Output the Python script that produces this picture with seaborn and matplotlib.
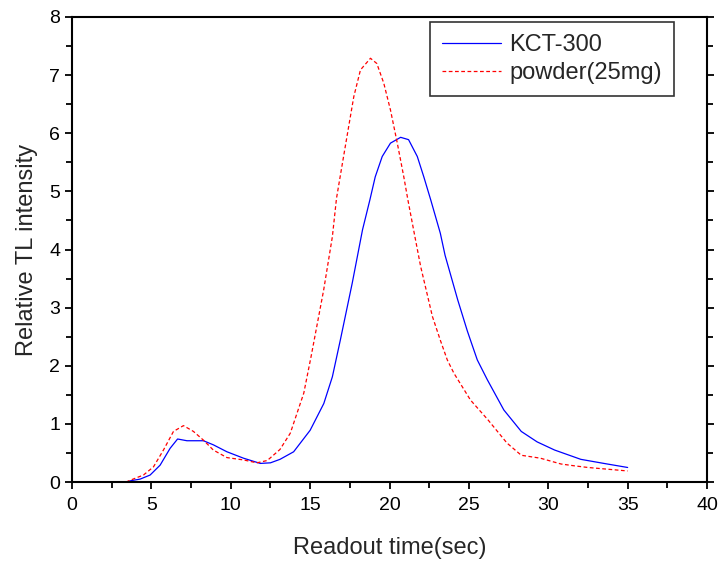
import numpy as np
import pandas as pd
import matplotlib
matplotlib.use("Agg")
import matplotlib.pyplot as plt
import seaborn as sns
from matplotlib.ticker import MultipleLocator

# KCT-300 glow curve
kct_time = [3.5, 3.66, 4.29, 4.92, 5.55, 6.18, 6.65, 7.24, 8.28, 8.9, 9.76, 10.8,
            11.86, 12.5, 13.1, 13.96, 15.0, 15.86, 16.4, 16.9, 17.65, 18.3, 18.76,
            19.1, 19.54, 20.06, 20.7, 21.2, 21.75, 22.16, 22.6, 23.2, 23.5, 24.3,
            24.9, 25.1, 25.53, 26.16, 27.2, 28.3, 29.3, 30.4, 32.05, 33.5, 35.0]
kct_int = [0.0, 0.02, 0.05, 0.12, 0.29, 0.58, 0.74, 0.71, 0.71, 0.64, 0.52, 0.41,
           0.32, 0.33, 0.39, 0.52, 0.89, 1.35, 1.81, 2.44, 3.42, 4.34, 4.85,
           5.25, 5.60, 5.83, 5.93, 5.89, 5.60, 5.25, 4.85, 4.28, 3.90, 3.13,
           2.60, 2.44, 2.10, 1.76, 1.24, 0.87, 0.69, 0.55, 0.39, 0.32, 0.25]

# powder (25mg) glow curve
pow_time = [3.4, 3.66, 4.5, 5.13, 5.76, 6.39, 7.02, 7.65, 8.28, 8.9, 9.76, 10.8,
            11.65, 12.3, 13.1, 13.75, 14.6, 15.06, 15.85, 16.4, 16.66, 17.0, 17.43,
            17.75, 18.17, 18.8, 19.2, 19.64, 20.06, 20.49, 20.9, 21.16, 21.6, 21.96,
            22.7, 23.2, 23.64, 24.06, 25.1, 26.2, 27.4, 28.3, 29.5, 30.8, 31.6,
            32.5, 35.0]
pow_int = [0.0, 0.03, 0.12, 0.26, 0.55, 0.87, 0.97, 0.87, 0.72, 0.55, 0.42, 0.38,
           0.33, 0.37, 0.56, 0.84, 1.53, 2.16, 3.30, 4.22, 4.88, 5.43, 6.12,
           6.63, 7.09, 7.29, 7.20, 6.86, 6.40, 5.83, 5.25, 4.85, 4.22, 3.71,
           2.85, 2.44, 2.10, 1.87, 1.41, 1.07, 0.67, 0.46, 0.41, 0.31, 0.28,
           0.25, 0.19]

labels = ["KCT-300", "powder(25mg)"]

df = pd.concat([
    pd.DataFrame({"time": kct_time, "intensity": kct_int, "sample": labels[0]}),
    pd.DataFrame({"time": pow_time, "intensity": pow_int, "sample": labels[1]}),
])

sns.set_style("ticks")
plt.rcParams["font.family"] = ["Liberation Sans", "DejaVu Sans"]

fig = plt.figure(figsize=(7.18, 5.61), dpi=100)
ax = fig.add_axes([0.1003, 0.1408, 0.8844, 0.8289])

sns.lineplot(data=df, x="time", y="intensity", hue="sample", style="sample",
             palette={labels[0]: "#0000ff", labels[1]: "#ff0000"},
             dashes={labels[0]: "", labels[1]: (3, 2)},
             linewidth=0.9, sort=False, estimator=None, ax=ax)

ax.set_xlim(0, 40)
ax.set_ylim(0, 8)
ax.xaxis.set_major_locator(MultipleLocator(5))
ax.xaxis.set_minor_locator(MultipleLocator(2.5))
ax.yaxis.set_major_locator(MultipleLocator(1))
ax.yaxis.set_minor_locator(MultipleLocator(0.5))
ax.tick_params(which="both", direction="out", width=1.3, labelsize=14,
               right=True, colors="black")
ax.tick_params(which="major", length=5)
ax.tick_params(which="minor", length=4)
ax.tick_params(axis="x", which="major", pad=6)
for s in ax.spines.values():
    s.set_visible(True)
    s.set_linewidth(1.5)
    s.set_color("black")

ax.set_xlabel("Readout time(sec)", fontsize=17, labelpad=16)
ax.set_ylabel("Relative TL intensity", fontsize=17, labelpad=8)

leg = ax.legend(loc="upper right", fontsize=17, frameon=True, fancybox=False,
                edgecolor="black", handlelength=2.5, handletextpad=0.35,
                borderpad=0.5, labelspacing=0.25, borderaxespad=0,
                bbox_to_anchor=(0.948, 0.989), title=None)
leg.get_frame().set_linewidth(1.2)

fig.savefig("out.png", dpi=100)
